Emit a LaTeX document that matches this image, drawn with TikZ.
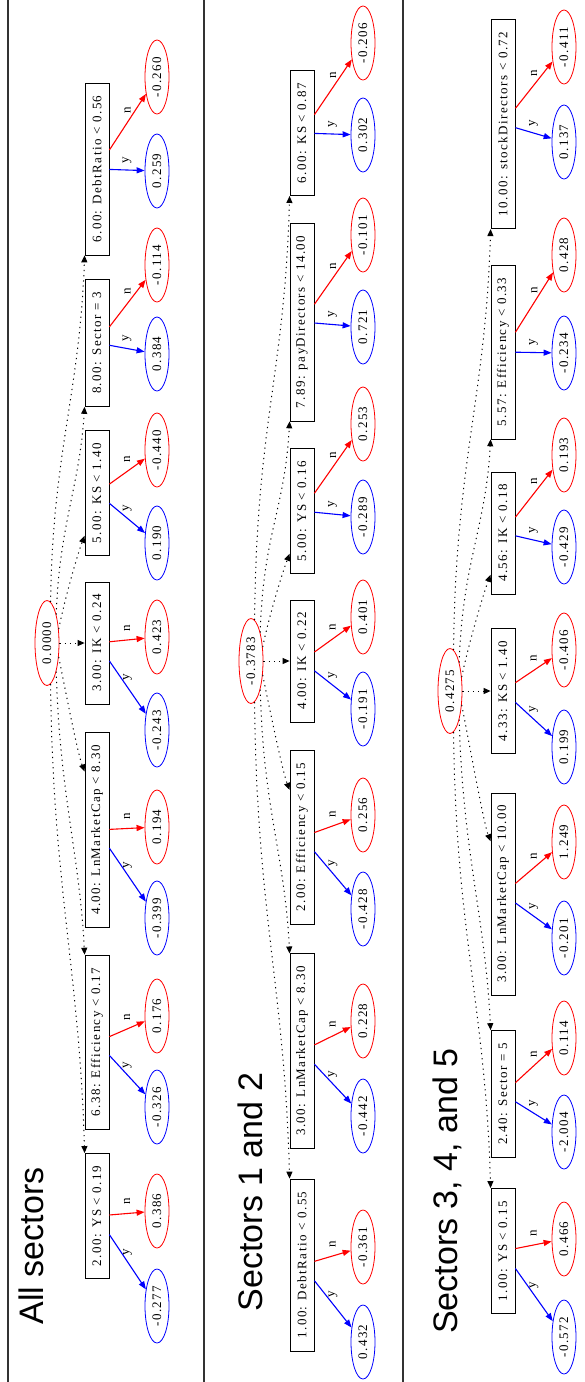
\documentclass[tikz,border=0pt]{standalone}
\usepackage{fontspec}
\newfontfamily\treefont[LetterSpace=11]{Liberation Serif}
\newfontfamily\headfont{Liberation Sans}
\usetikzlibrary{arrows.meta,shapes.geometric,calc}

\begin{document}
\begin{tikzpicture}[x=-1pt,y=-1pt,rotate=90,transform shape,>={Triangle[length=7pt,width=6pt]},
  split/.style={rectangle, draw=black, line width=0.8pt, minimum height=24pt, inner xsep=12.5pt, inner ysep=0pt, font=\treefont\fontsize{13}{15}\selectfont},
  leafy/.style={ellipse, draw=blue, line width=0.8pt, minimum width=74pt, minimum height=24pt, inner sep=0pt, font=\treefont\fontsize{13}{15}\selectfont},
  leafn/.style={leafy, draw=red},
  root/.style={leafn, minimum width=85pt},
  yes/.style={blue, line width=1.1pt, ->, >={Triangle[length=8pt,width=6pt]}},
  no/.style={red, line width=1.1pt, ->, >={Triangle[length=8pt,width=6pt]}},
  dots/.style={line width=1pt, dash pattern=on 1.2pt off 4pt, ->},
  ylbl/.style={right=6pt, inner sep=0pt, text=black, font=\treefont\fontsize{13}{15}\selectfont},
  nlbl/.style={ylbl, right=2pt},
  title/.style={font=\headfont\fontsize{34}{34}\selectfont},
  rule/.style={line width=1.5pt, black!80}]
\useasboundingbox (0,0) rectangle (1382,585);

% table rules
\draw[rule] (0,8) -- (1382,8);
\draw[rule] (0,204) -- (1382,204);
\draw[rule] (0,403) -- (1382,403);

%%% all sectors
\draw (1246,31) node[title] (t1) {All sectors};
\draw (643,47) node[root] (a0) {0.0000};
\draw (169,97) node[split] (a1) {6.00: DebtRatio < 0.56};
\draw (343,97) node[split] (a2) {8.00: Sector = 3};
\draw (493,97) node[split] (a3) {5.00: KS < 1.40};
\draw (643,97) node[split] (a4) {3.00: IK < 0.24};
\draw (830,97) node[split] (a5) {4.00: LnMarketCap < 8.30};
\draw (1042,97) node[split] (a6) {6.38: Efficiency < 0.17};
\draw (1216,97) node[split] (a7) {2.00: YS < 0.19};
\draw (171,157) node[leafy] (a1y) {0.259};
\draw (77,157) node[leafn] (a1n) {-0.260};
\draw (354,157) node[leafy] (a2y) {0.384};
\draw (265,157) node[leafn] (a2n) {-0.114};
\draw (543,157) node[leafy] (a3y) {0.190};
\draw (450,157) node[leafn] (a3n) {-0.440};
\draw (730,157) node[leafy] (a4y) {-0.243};
\draw (637,157) node[leafn] (a4n) {0.423};
\draw (918,157) node[leafy] (a5y) {-0.399};
\draw (827,157) node[leafn] (a5n) {0.194};
\draw (1107,157) node[leafy] (a6y) {-0.326};
\draw (1016,157) node[leafn] (a6n) {0.176};
\draw (1306,157) node[leafy] (a7y) {-0.277};
\draw (1211,157) node[leafn] (a7n) {0.386};
\draw[dots] (a0.-5) .. controls +(-150,2) and +(140,-5) .. (a1.north west);
\draw[dots] (a0.-18) .. controls +(-90,3) and +(80,-5) .. (a2.north west);
\draw[dots] (a0.-40) .. controls +(-30,6) and +(18,-7) .. ($(a3.north west)!0.16!(a3.north east)$);
\draw[dots] (a0.south) -- (a4.north);
\draw[dots] (a0.220) .. controls +(30,6) and +(-18,-7) .. ($(a5.north east)!0.2!(a5.north west)$);
\draw[dots] (a0.198) .. controls +(120,3) and +(-100,-5) .. (a6.north east);
\draw[dots] (a0.185) .. controls +(200,2) and +(-180,-5) .. (a7.north east);
\draw[yes] (a1) -- node[ylbl] {y} (a1y);
\draw[no] (a1) -- node[nlbl] {n} (a1n);
\draw[yes] (a2) -- node[ylbl] {y} (a2y);
\draw[no] (a2) -- node[nlbl] {n} (a2n);
\draw[yes] (a3) -- node[ylbl] {y} (a3y);
\draw[no] (a3) -- node[nlbl] {n} (a3n);
\draw[yes] (a4) -- node[ylbl] {y} (a4y);
\draw[no] (a4) -- node[nlbl] {n} (a4n);
\draw[yes] (a5) -- node[ylbl] {y} (a5y);
\draw[no] (a5) -- node[nlbl] {n} (a5n);
\draw[yes] (a6) -- node[ylbl] {y} (a6y);
\draw[no] (a6) -- node[nlbl] {n} (a6n);
\draw[yes] (a7) -- node[ylbl] {y} (a7y);
\draw[no] (a7) -- node[nlbl] {n} (a7n);

%%% sectors 1 and 2
\draw (1192,250) node[title] (t2) {Sectors 1 and 2};
\draw (661,251) node[root] (b0) {-0.3783};
\draw (133,302) node[split] (b1) {6.00: KS < 0.87};
\draw (322,302) node[split] (b2) {7.89: payDirectors < 14.00};
\draw (511,302) node[split] (b3) {5.00: YS < 0.16};
\draw (661,302) node[split] (b4) {4.00: IK < 0.22};
\draw (837,302) node[split] (b5) {2.00: Efficiency < 0.15};
\draw (1051,302) node[split] (b6) {3.00: LnMarketCap < 8.30};
\draw (1265,302) node[split] (b7) {1.00: DebtRatio < 0.55};
\draw (135,363) node[leafy] (b1y) {0.302};
\draw (43,363) node[leafn] (b1n) {-0.206};
\draw (327,363) node[leafy] (b2y) {0.721};
\draw (235,363) node[leafn] (b2n) {-0.101};
\draw (517,363) node[leafy] (b3y) {-0.289};
\draw (424,363) node[leafn] (b3n) {0.253};
\draw (709,363) node[leafy] (b4y) {-0.191};
\draw (617,363) node[leafn] (b4n) {0.401};
\draw (909,363) node[leafy] (b5y) {-0.428};
\draw (815,363) node[leafn] (b5n) {0.256};
\draw (1116,363) node[leafy] (b6y) {-0.442};
\draw (1021,363) node[leafn] (b6n) {0.228};
\draw (1342,363) node[leafy] (b7y) {0.432};
\draw (1247,363) node[leafn] (b7n) {-0.361};
\draw[dots] (b0.-5) .. controls +(-200,2) and +(180,-5) .. (b1.north west);
\draw[dots] (b0.-18) .. controls +(-100,3) and +(90,-5) .. (b2.north west);
\draw[dots] (b0.-40) .. controls +(-30,6) and +(18,-7) .. ($(b3.north west)!0.16!(b3.north east)$);
\draw[dots] (b0.south) -- (b4.north);
\draw[dots] (b0.220) .. controls +(30,6) and +(-18,-7) .. ($(b5.north east)!0.23!(b5.north west)$);
\draw[dots] (b0.198) .. controls +(120,3) and +(-100,-5) .. (b6.north east);
\draw[dots] (b0.185) .. controls +(210,2) and +(-190,-5) .. (b7.north east);
\draw[yes] (b1) -- node[ylbl] {y} (b1y);
\draw[no] (b1) -- node[nlbl] {n} (b1n);
\draw[yes] (b2) -- node[ylbl] {y} (b2y);
\draw[no] (b2) -- node[nlbl] {n} (b2n);
\draw[yes] (b3) -- node[ylbl] {y} (b3y);
\draw[no] (b3) -- node[nlbl] {n} (b3n);
\draw[yes] (b4) -- node[ylbl] {y} (b4y);
\draw[no] (b4) -- node[nlbl] {n} (b4n);
\draw[yes] (b5) -- node[ylbl] {y} (b5y);
\draw[no] (b5) -- node[nlbl] {n} (b5n);
\draw[yes] (b6) -- node[ylbl] {y} (b6y);
\draw[no] (b6) -- node[nlbl] {n} (b6n);
\draw[yes] (b7) -- node[ylbl] {y} (b7y);
\draw[no] (b7) -- node[nlbl] {n} (b7n);

%%% sectors 3, 4 and 5
\draw (1191,447) node[title] (t3) {Sectors 3, 4, and 5};
\draw (691,450) node[root] (c0) {0.4275};
\draw (124,503) node[split] (c1) {10.00: stockDirectors < 0.72};
\draw (352,503) node[split] (c2) {5.57: Efficiency < 0.33};
\draw (533,503) node[split] (c3) {4.56: IK < 0.18};
\draw (691,503) node[split] (c4) {4.33: KS < 1.40};
\draw (894,503) node[split] (c5) {3.00: LnMarketCap < 10.00};
\draw (1094,503) node[split] (c6) {2.40: Sector = 5};
\draw (1251,503) node[split] (c7) {1.00: YS < 0.15};
\draw (142,564) node[leafy] (c1y) {0.137};
\draw (47,564) node[leafn] (c1n) {-0.411};
\draw (353,564) node[leafy] (c2y) {-0.234};
\draw (255,564) node[leafn] (c2n) {0.428};
\draw (547,564) node[leafy] (c3y) {-0.429};
\draw (455,564) node[leafn] (c3n) {0.193};
\draw (747,564) node[leafy] (c4y) {0.199};
\draw (650,564) node[leafn] (c4n) {-0.406};
\draw (938,564) node[leafy] (c5y) {-0.201};
\draw (842,564) node[leafn] (c5n) {1.249};
\draw (1132,564) node[leafy] (c6y) {-2.004};
\draw (1038,564) node[leafn] (c6n) {0.114};
\draw (1337,564) node[leafy] (c7y) {-0.572};
\draw (1239,564) node[leafn] (c7n) {0.466};
\draw[dots] (c0.-5) .. controls +(-190,2) and +(170,-5) .. (c1.north west);
\draw[dots] (c0.-18) .. controls +(-100,3) and +(90,-5) .. (c2.north west);
\draw[dots] (c0.-40) .. controls +(-30,6) and +(18,-7) .. ($(c3.north west)!0.16!(c3.north east)$);
\draw[dots] (c0.south) -- (c4.north);
\draw[dots] (c0.220) .. controls +(30,6) and +(-18,-7) .. ($(c5.north east)!0.24!(c5.north west)$);
\draw[dots] (c0.198) .. controls +(130,3) and +(-110,-5) .. (c6.north east);
\draw[dots] (c0.185) .. controls +(200,2) and +(-180,-5) .. (c7.north east);
\draw[yes] (c1) -- node[ylbl] {y} (c1y);
\draw[no] (c1) -- node[nlbl] {n} (c1n);
\draw[yes] (c2) -- node[ylbl] {y} (c2y);
\draw[no] (c2) -- node[nlbl] {n} (c2n);
\draw[yes] (c3) -- node[ylbl] {y} (c3y);
\draw[no] (c3) -- node[nlbl] {n} (c3n);
\draw[yes] (c4) -- node[ylbl] {y} (c4y);
\draw[no] (c4) -- node[nlbl] {n} (c4n);
\draw[yes] (c5) -- node[ylbl] {y} (c5y);
\draw[no] (c5) -- node[nlbl] {n} (c5n);
\draw[yes] (c6) -- node[ylbl] {y} (c6y);
\draw[no] (c6) -- node[nlbl] {n} (c6n);
\draw[yes] (c7) -- node[ylbl] {y} (c7y);
\draw[no] (c7) -- node[nlbl] {n} (c7n);
\end{tikzpicture}
\end{document}
